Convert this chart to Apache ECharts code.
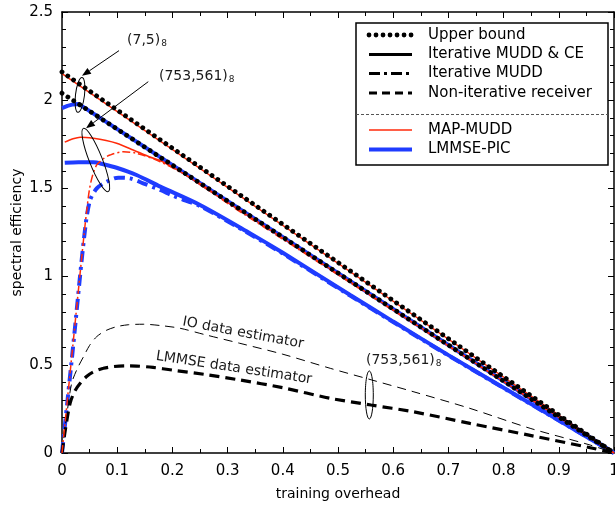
<!DOCTYPE html>
<html>
<head>
<meta charset="utf-8">
<script src="https://cdn.jsdelivr.net/npm/echarts@6/dist/echarts.min.js"></script>
<style>
html,body{margin:0;padding:0;background:#fff;}
#chart{width:615px;height:506px;}
</style>
</head>
<body>
<div id="chart"></div>
<script>
// ---- data (training overhead, spectral efficiency) ----
var xTicks = ['0','0.1','0.2','0.3','0.4','0.5','0.6','0.7','0.8','0.9','1'];
var yTicks = ['0','0.5','1','1.5','2','2.5'];

// (7,5)_8 code
var upperBoundA = [[0, 2.16], [1, 0]];
var upperBoundB = [[0, 2.04], [1, 0]];
var mapMudd75 = [[0, 2.15], [1, 0]];
var lmmsePic75 = [[0, 1.955], [0.01, 1.968], [0.02, 1.976], [0.03, 1.979], [1, 0]];

// (753,561)_8 code, iterative MUDD & CE
var mapMuddCE = [[0.005, 1.762], [0.02, 1.781], [0.033, 1.79], [0.057, 1.784], [0.08, 1.772], [0.099, 1.756],
  [0.129, 1.718], [0.159, 1.678], [0.178, 1.658], [0.205, 1.612], [0.232, 1.56], [0.26, 1.5], [0.3, 1.421],
  [0.4, 1.218], [0.5, 1.015], [0.6, 0.812], [0.7, 0.609], [0.8, 0.406], [0.9, 0.203], [1, 0]];
var lmmseCE = [[0.005, 1.645], [0.03, 1.648], [0.057, 1.648], [0.075, 1.637], [0.099, 1.617], [0.135, 1.576],
  [0.178, 1.51], [0.25, 1.406], [0.341, 1.245], [0.4, 1.135], [0.522, 0.896], [0.6, 0.745], [0.7, 0.555],
  [0.8, 0.37], [0.9, 0.185], [1, 0]];

// (753,561)_8 code, iterative MUDD
var mapMuddIt = [[0, 0], [0.02, 0.62], [0.04, 1.24], [0.045, 1.38], [0.05, 1.5], [0.056, 1.58], [0.063, 1.633],
  [0.075, 1.668], [0.087, 1.689], [0.111, 1.708], [0.135, 1.699], [0.178, 1.651], [0.25, 1.529], [0.3, 1.415],
  [0.4, 1.212], [0.5, 1.01], [0.6, 0.808], [0.7, 0.606], [0.8, 0.404], [0.9, 0.202], [1, 0]];
var lmmseIt = [[0, 0], [0.02, 0.6], [0.04, 1.22], [0.05, 1.425], [0.063, 1.5], [0.081, 1.538], [0.102, 1.561],
  [0.123, 1.557], [0.147, 1.529], [0.178, 1.491], [0.2, 1.46], [0.22, 1.435], [0.25, 1.4], [0.341, 1.24],
  [0.4, 1.13], [0.522, 0.892], [0.6, 0.742], [0.7, 0.553], [0.8, 0.368], [0.9, 0.184], [1, 0]];

// non-iterative receiver
var ioEstimator = [[0, 0], [0.008, 0.2], [0.0175, 0.395], [0.028, 0.48], [0.039, 0.546], [0.05, 0.61], [0.063, 0.66],
  [0.08, 0.695], [0.099, 0.716], [0.12, 0.727], [0.147, 0.73], [0.18, 0.722], [0.214, 0.707], [0.26, 0.67],
  [0.322, 0.622], [0.4, 0.56], [0.486, 0.48], [0.56, 0.415], [0.636, 0.348], [0.739, 0.253], [0.848, 0.14],
  [0.957, 0.045], [1, 0]];
var lmmseEstimator = [[0, 0], [0.005, 0.11], [0.0145, 0.28], [0.023, 0.35], [0.033, 0.395], [0.045, 0.435],
  [0.057, 0.46], [0.075, 0.48], [0.093, 0.49], [0.115, 0.494], [0.135, 0.493], [0.165, 0.485], [0.2, 0.47],
  [0.26, 0.445], [0.322, 0.414], [0.4, 0.37], [0.486, 0.31], [0.56, 0.272], [0.636, 0.234], [0.739, 0.168],
  [0.848, 0.1], [0.957, 0.03], [1, 0]];

var RED = '#ff2a0a', BLUE = '#1f3cff';
var FONT = 'DejaVu Sans';

function ln(name, data, color, width, type, z, smooth) {
  return {
    name: name, type: 'line', data: data, showSymbol: false, symbol: 'none', smooth: smooth || false,
    z: z, silent: true, animation: false,
    lineStyle: { color: color, width: width, type: type }
  };
}
function dotted(name, data) {
  return {
    name: name, type: 'line', data: data, showSymbol: false, symbol: 'none', z: 6, silent: true, animation: false,
    lineStyle: { color: '#000', width: 4.8, type: [0.01, 7], cap: 'round' }
  };
}

var axisCommon = {
  axisLine: { show: true, onZero: false, lineStyle: { color: '#000', width: 1.5 } },
  axisTick: { show: true, inside: true, length: 6, lineStyle: { color: '#000', width: 1 } },
  minorTick: { show: true, length: 4, lineStyle: { color: '#000', width: 1 } },
  splitLine: { show: false }
};

var chart = echarts.init(document.getElementById('chart'), null, { renderer: 'canvas' });
var option = {
  animation: false,
  backgroundColor: '#fff',
  grid: { left: 62, right: 1, top: 12, bottom: 53, containLabel: false, outerBoundsMode: 'none' },
  xAxis: [
    Object.assign({}, axisCommon, {
      type: 'value', min: 0, max: 1, interval: 0.1, position: 'bottom',
      minorTick: Object.assign({}, axisCommon.minorTick, { splitNumber: 2 }),
      axisLabel: { color: '#000', fontSize: 15, fontFamily: FONT, margin: 11,
        formatter: function (v) { return xTicks[Math.round(v * 10)]; } },
      name: 'training overhead', nameLocation: 'middle', nameGap: 34, nameMoveOverlap: false,
      nameTextStyle: { color: '#000', fontSize: 14, fontFamily: FONT }
    }),
    Object.assign({}, axisCommon, {
      type: 'value', min: 0, max: 1, interval: 0.1, position: 'top',
      minorTick: Object.assign({}, axisCommon.minorTick, { splitNumber: 2 }),
      axisLabel: { show: false }
    })
  ],
  yAxis: [
    Object.assign({}, axisCommon, {
      type: 'value', min: 0, max: 2.5, interval: 0.5, position: 'left',
      minorTick: Object.assign({}, axisCommon.minorTick, { splitNumber: 5 }),
      axisLabel: { color: '#000', fontSize: 15, fontFamily: FONT, margin: 9,
        formatter: function (v) { return yTicks[Math.round(v * 2)]; } },
      name: 'spectral efficiency', nameLocation: 'middle', nameGap: 38, nameMoveOverlap: false,
      nameTextStyle: { color: '#000', fontSize: 14, fontFamily: FONT }
    }),
    Object.assign({}, axisCommon, {
      type: 'value', min: 0, max: 2.5, interval: 0.5, position: 'right',
      minorTick: Object.assign({}, axisCommon.minorTick, { splitNumber: 5 }),
      axisLabel: { show: false }
    })
  ],
  series: [
    ln('LMMSE-PIC (7,5) CE', lmmsePic75, BLUE, 4, 'solid', 2),
    ln('LMMSE-PIC CE', lmmseCE, BLUE, 4, 'solid', 2, 0.3),
    ln('LMMSE-PIC It', lmmseIt, BLUE, 4, [11, 5, 3, 5], 2, 0.3),
    ln('IO data estimator', ioEstimator, '#000', 1, [9, 6], 3, 0.3),
    ln('LMMSE data estimator', lmmseEstimator, '#000', 3.2, [10, 6], 3, 0.3),
    ln('MAP-MUDD (7,5)', mapMudd75, RED, 1.5, 'solid', 4),
    ln('MAP-MUDD CE', mapMuddCE, RED, 1.5, 'solid', 4, 0.3),
    ln('MAP-MUDD It', mapMuddIt, RED, 1.5, [8, 3, 2, 3], 4, 0.3),
    dotted('Upper bound A', upperBoundA),
    dotted('Upper bound B', upperBoundB)
  ]
};
chart.setOption(option);

// ---- annotations (anchored in data coordinates) ----
function px(p) { return chart.convertToPixel({ gridIndex: 0 }, p); }
var ANN = '#1a1a1a';
function subText(anchor, main, sub) {
  var p = px(anchor);
  return {
    type: 'text', x: p[0], y: p[1], z: 20,
    style: { text: main + '{s|' + sub + '}', fill: ANN, font: '14px ' + FONT, verticalAlign: 'middle',
      rich: { s: { fontSize: 9, fontFamily: FONT, fill: ANN, padding: [7, 0, 0, 1] } } }
  };
}
function ellipse(center, rx, ry, rot) {
  var p = px(center);
  return { type: 'ellipse', x: p[0], y: p[1], rotation: rot, z: 20,
    shape: { cx: 0, cy: 0, rx: rx, ry: ry }, style: { fill: 'none', stroke: '#000', lineWidth: 1 } };
}
function arrow(from, to) {
  var a = px(from), b = px(to);
  var ang = Math.atan2(b[1] - a[1], b[0] - a[0]);
  var L = 9, W = 3.5;
  var bx = b[0] - L * Math.cos(ang), by = b[1] - L * Math.sin(ang);
  return [
    { type: 'line', z: 20, shape: { x1: a[0], y1: a[1], x2: bx, y2: by }, style: { stroke: '#000', lineWidth: 1 } },
    { type: 'polygon', z: 20, shape: { points: [[b[0], b[1]],
      [bx + W * Math.sin(ang), by - W * Math.cos(ang)], [bx - W * Math.sin(ang), by + W * Math.cos(ang)]] },
      style: { fill: '#000' } }
  ];
}
function rotText(center, txt, rot) {
  var p = px(center);
  return { type: 'text', x: p[0], y: p[1], rotation: rot, z: 20,
    style: { text: txt, fill: ANN, font: '14px ' + FONT, align: 'center', verticalAlign: 'middle' } };
}

// legend (layout in pixels)
var LG = { x: 356, y: 23, w: 252, h: 142 };
function legendLine(y, color, width, dash, cap) {
  return { type: 'line', z: 30, shape: { x1: LG.x + 13, y1: y, x2: LG.x + 56, y2: y },
    style: { stroke: color, lineWidth: width, lineDash: dash, lineCap: cap || 'butt' } };
}
function legendText(y, t) {
  return { type: 'text', z: 30, x: LG.x + 72, y: y,
    style: { text: t, fill: '#000', font: '15px ' + FONT, verticalAlign: 'middle' } };
}
var rows = [35, 54.5, 73.5, 93, 130, 149.5];
var graphics = [
  { type: 'rect', z: 29, shape: { x: LG.x, y: LG.y, width: LG.w, height: LG.h },
    style: { fill: '#fff', stroke: '#000', lineWidth: 1.5 } },
  { type: 'line', z: 30, shape: { x1: LG.x, y1: 114.5, x2: LG.x + LG.w, y2: 114.5 },
    style: { stroke: '#555', lineWidth: 1, lineDash: [3, 2] } },
  legendLine(rows[0], '#000', 4.8, [0.01, 7], 'round'),
  legendLine(rows[1], '#000', 3, null),
  legendLine(rows[2], '#000', 3, [11, 4, 3, 4]),
  legendLine(rows[3], '#000', 3, [8, 5]),
  legendLine(rows[4], RED, 1.5, null),
  legendLine(rows[5], BLUE, 4, null),
  legendText(rows[0], 'Upper bound'),
  legendText(rows[1], 'Iterative MUDD & CE'),
  legendText(rows[2], 'Iterative MUDD'),
  legendText(rows[3], 'Non-iterative receiver'),
  legendText(rows[4], 'MAP-MUDD'),
  legendText(rows[5], 'LMMSE-PIC'),

  subText([0.1178, 2.341], '(7,5)', '8'),
  subText([0.1757, 2.137], '(753,561)', '8'),
  subText([0.5507, 0.527], '(753,561)', '8'),
  ellipse([0.0326, 2.03], 4.5, 17.5, -0.12),
  ellipse([0.0612, 1.661], 6.5, 34, 0.375),
  ellipse([0.5567, 0.329], 4, 24, 0),
  rotText([0.328, 0.680], 'IO data estimator', -0.185),
  rotText([0.3116, 0.482], 'LMMSE data estimator', -0.15)
].concat(arrow([0.1033, 2.281], [0.0362, 2.138]))
 .concat(arrow([0.1563, 2.105], [0.0435, 1.841]));

chart.setOption({ graphic: { elements: graphics } });
</script>
</body>
</html>
